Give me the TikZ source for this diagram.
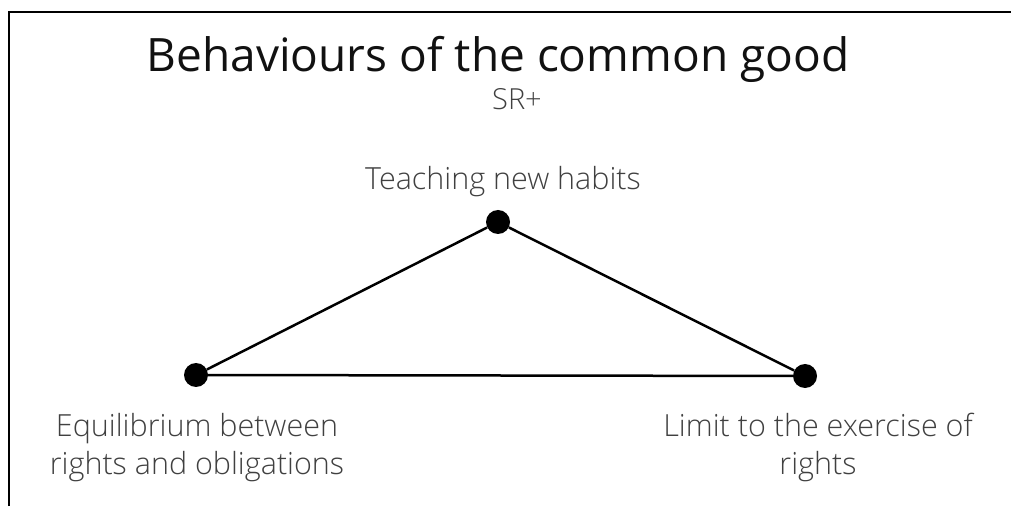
\documentclass[tikz,border=0pt]{standalone}
\usepackage{fontspec}
\setmainfont{Open Sans}
\newfontfamily\lightfont{Open Sans Light}
\definecolor{labelgrey}{HTML}{404040}
\definecolor{titleblack}{HTML}{111111}
\begin{document}
\begin{tikzpicture}[x=1pt,y=1pt,
  dot/.style={circle,fill=black,inner sep=0pt,minimum size=24pt},
  edge/.style={line width=2.5pt,black},
  lbl/.style={text=labelgrey,font=\lightfont\fontsize{30.5}{38}\selectfont,align=center,inner sep=0pt},
  frame/.style={line width=2pt,black}]
\useasboundingbox (0,0) rectangle (1011,506);
\coordinate (fa) at (9,0);
\coordinate (fb) at (9,494);
\coordinate (fc) at (1011,494);
\draw[frame] (fa) -- (fb) -- (fc);
\node[anchor=base,text=titleblack,font=\fontsize{46}{54}\selectfont,inner sep=0pt] (title) at (498,434) {Behaviours of the common good};
\node[anchor=base,text=labelgrey,font=\lightfont\fontsize{29}{34}\selectfont,inner sep=0pt] (sr) at (517,396) {SR+};
\node[dot] (top) at (498,284) {};
\node[dot] (left) at (196,131) {};
\node[dot] (right) at (805,130) {};
\draw[edge] (left) -- (top) -- (right) -- (left);
\node[lbl,anchor=base] (tl) at (503,316) {Teaching new habits};
\node[lbl,anchor=base] (ll) at (197,32) {Equilibrium between\\rights and obligations};
\node[lbl,anchor=base] (rl) at (818,32) {Limit to the exercise of\\rights};
\end{tikzpicture}
\end{document}
